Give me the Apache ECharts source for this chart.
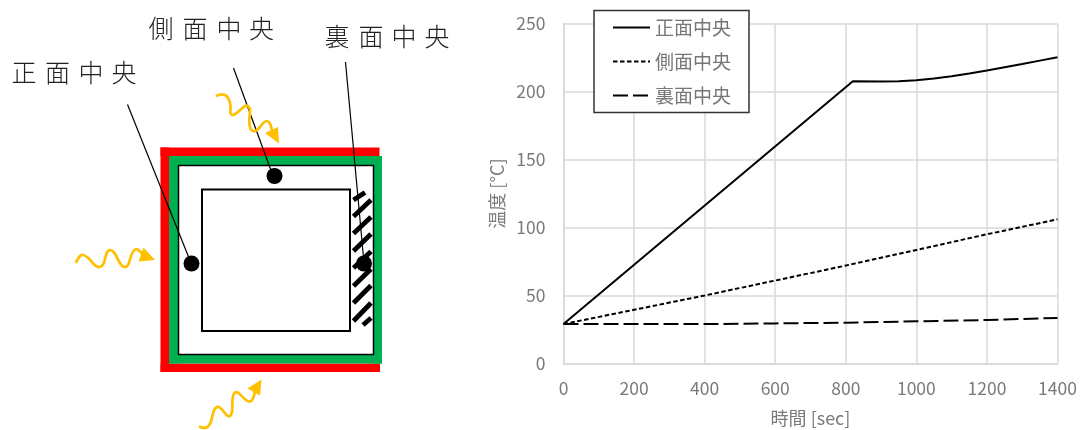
<!DOCTYPE html>
<html lang="ja">
<head>
    <meta charset="UTF-8">
    <title>温度</title>
    <style>
        html, body { margin: 0; padding: 0; background: #fff; }
    </style>
</head>
<body>
<div id="chartBox" style="width: 1083px;height: 430px;"></div>
<script type="text/javascript" src="https://cdn.jsdelivr.net/npm/echarts@6/dist/echarts.min.js"></script>
<script type="text/javascript">
    // 読み取った値 [sec, °C]
    var seriesNames = ['正面中央', '側面中央', '裏面中央'];
    var frontValues = [[0, 29], [820, 207.5], [900, 207.3], [950, 207.5], [1000, 208.3], [1050, 209.6], [1100, 211.2], [1150, 213.2], [1200, 215.4], [1250, 217.8], [1300, 220.2], [1350, 222.7], [1400, 225.2]];
    var sideValues = [[0, 29], [200, 39.5], [400, 50], [600, 61], [800, 72], [1000, 83.5], [1200, 95], [1400, 106]];
    var backValues = [[0, 29], [400, 29], [600, 29.5], [800, 30], [1000, 31], [1200, 32], [1400, 33.5]];

    var font = '"Noto Sans CJK JP", "Noto Sans", sans-serif';
    var labelColor = '#7a7a7a';
    var gridColor = '#d9d9d9';
    var arrowColor = '#FFC000';

    function rect(x, y, w, h, fill) {
        return { type: 'rect', shape: { x: x, y: y, width: w, height: h }, style: { fill: fill } };
    }
    function frame(x, y, w, h, lw) {
        return { type: 'rect', shape: { x: x, y: y, width: w, height: h }, style: { fill: 'none', stroke: '#000', lineWidth: lw } };
    }
    function line(x1, y1, x2, y2, lw) {
        return { type: 'line', shape: { x1: x1, y1: y1, x2: x2, y2: y2 }, style: { stroke: '#000', lineWidth: lw } };
    }
    function dot(x, y) {
        return { type: 'circle', shape: { cx: x, cy: y, r: 8 }, style: { fill: '#000' } };
    }
    // 文字を一字ずつ間隔をあけて置く
    function spaced(str, xs, y) {
        return str.split('').map(function (c, i) {
            return {
                type: 'text',
                style: { x: xs[i], y: y, text: c, fontFamily: font, fontSize: 25, fontWeight: 300, fill: '#222', align: 'center', verticalAlign: 'middle' }
            };
        });
    }
    function wave(points, head) {
        return [
            { type: 'polyline', shape: { points: points, smooth: 0.5 }, style: { fill: 'none', stroke: arrowColor, lineWidth: 2.7 } },
            { type: 'polygon', shape: { points: head }, style: { fill: arrowColor } }
        ];
    }

    var parts = [
        rect(160.5, 147.5, 219, 8.5, '#FF0000'),
        rect(160.5, 147.5, 8.5, 224.5, '#FF0000'),
        rect(160.5, 363.5, 219.5, 8.5, '#FF0000'),
        rect(169, 156, 213, 9.5, '#00B050'),
        rect(169, 156, 9.5, 207.5, '#00B050'),
        rect(169, 354.5, 213, 9, '#00B050'),
        rect(373.5, 156, 8.5, 207.5, '#00B050'),
        frame(178.5, 165.5, 195, 189, 1.5),
        frame(202, 189.5, 148, 141.5, 2)
    ];

    // 裏面のハッチング
    var hatch = [[353.5, 200, 365, 192.5], [353.5, 216.5, 371, 200], [353.5, 233.5, 371, 217], [353.5, 251, 371, 234],
        [353.5, 268, 371, 251.5], [353.5, 286, 371, 269], [353.5, 303, 371, 285.5], [353.5, 321, 371, 303], [363, 325, 371, 318]];
    hatch.forEach(function (h) { parts.push(line(h[0], h[1], h[2], h[3], 4.8)); });

    parts.push(line(127.5, 104.5, 191, 263, 1.2));
    parts.push(line(233.5, 68, 273, 176, 1.2));
    parts.push(line(345.5, 62, 364, 263, 1.2));
    parts.push(dot(274.5, 176), dot(191.5, 263.5), dot(364, 263.5));

    parts = parts.concat(
        spaced('正面中央', [24, 57.5, 91, 124], 72),
        spaced('側面中央', [161, 195, 229, 261.5], 28),
        spaced('裏面中央', [337, 371, 404, 437], 36),
        wave([[76, 263], [83, 255], [100, 267], [110, 250], [125, 267], [135, 249.5], [143, 255]], [[143.5, 247.5], [155, 260], [138.5, 261.5]]),
        wave([[216, 96], [225, 95], [230, 103], [232, 115], [248, 106], [250, 127], [255, 131], [267, 121], [272, 131]], [[279, 143.5], [265, 133], [278, 127]]),
        wave([[199, 426.5], [208, 426.5], [217, 407], [230, 416], [235, 392.5], [250, 401.5], [255, 389]], [[261.5, 379.5], [247.5, 388.5], [260, 395.5]])
    );

    var myChart = echarts.init(document.getElementById('chartBox'), null, { renderer: 'canvas' });

    myChart.setOption({
        animation: false,
        backgroundColor: '#fff',
        textStyle: { fontFamily: font },
        graphic: { elements: parts },
        grid: { left: 563.5, top: 23.5, right: 25.5, bottom: 66.5, containLabel: false, outerBoundsMode: 'none' },
        legend: {
            data: seriesNames,
            orient: 'vertical',
            left: 594,
            top: 10.5,
            padding: [7, 18, 7, 18],
            itemWidth: 37,
            itemHeight: 20,
            itemGap: 14,
            itemStyle: { opacity: 0 },
            backgroundColor: '#fff',
            borderColor: '#333',
            borderWidth: 1.5,
            textStyle: { fontFamily: font, fontSize: 19, color: '#777', lineHeight: 20 }
        },
        xAxis: {
            type: 'value',
            min: 0,
            max: 1400,
            interval: 200,
            name: '時間 [sec]',
            nameLocation: 'middle',
            nameGap: 46,
            nameTextStyle: { fontFamily: font, fontSize: 18, color: labelColor },
            axisLine: { show: true, lineStyle: { color: gridColor, width: 1.5 } },
            axisTick: { show: false },
            axisLabel: { margin: 16, fontFamily: font, fontSize: 17.5, color: labelColor, formatter: function (v) { return String(v); } },
            splitLine: { show: true, lineStyle: { color: gridColor, width: 1.5 } }
        },
        yAxis: {
            type: 'value',
            min: 0,
            max: 250,
            interval: 50,
            name: '温度 [°C]',
            nameLocation: 'middle',
            nameGap: 57,
            nameTextStyle: { fontFamily: font, fontSize: 18, color: labelColor },
            axisLine: { show: true, lineStyle: { color: gridColor, width: 1.5 } },
            axisTick: { show: false },
            axisLabel: { margin: 18, fontFamily: font, fontSize: 17.5, color: labelColor },
            splitLine: { show: true, lineStyle: { color: gridColor, width: 1.5 } }
        },
        series: [{
            name: seriesNames[0],
            type: 'line',
            symbol: 'none',
            data: frontValues,
            lineStyle: { color: '#000', width: 2 },
            itemStyle: { color: '#000' }
        }, {
            name: seriesNames[1],
            type: 'line',
            symbol: 'none',
            data: sideValues,
            lineStyle: { color: '#000', width: 2, type: [4.5, 2.5] },
            itemStyle: { color: '#000' }
        }, {
            name: seriesNames[2],
            type: 'line',
            symbol: 'none',
            data: backValues,
            lineStyle: { color: '#000', width: 2, type: [15, 5] },
            itemStyle: { color: '#000' }
        }]
    });
</script>
</body>
</html>
